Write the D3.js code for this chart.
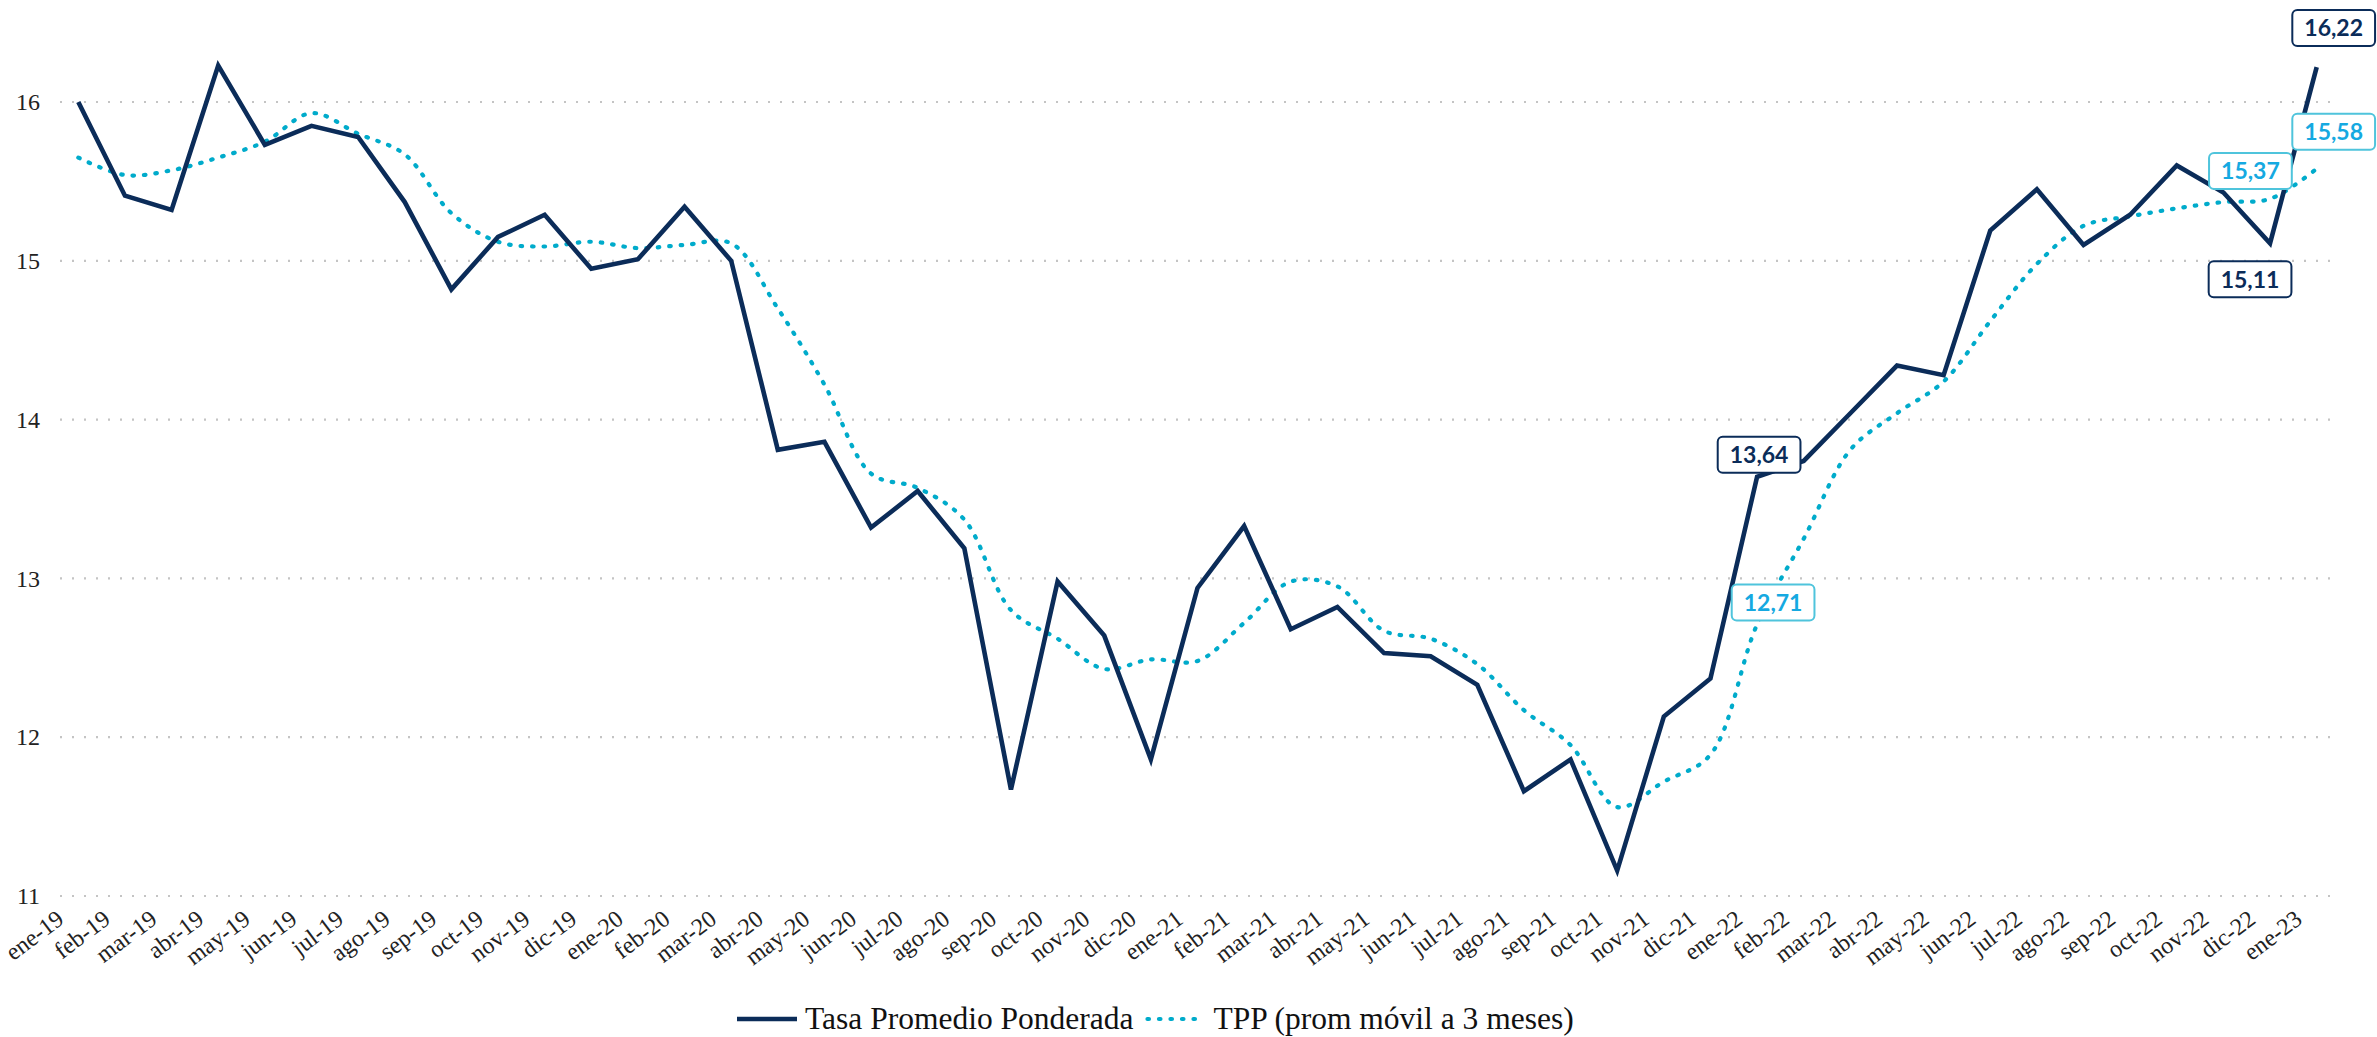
<!DOCTYPE html>
<html>
<head>
<meta charset="utf-8">
<script src="https://cdn.jsdelivr.net/npm/d3@7"></script>
<style>
  html, body { margin: 0; padding: 0; background: #fff; }
  svg { display: block; }
</style>
</head>
<body>
<svg id="chart" width="2377" height="1037"></svg>
<script>
// ---- data ----
const months = [
  'ene-19','feb-19','mar-19','abr-19','may-19','jun-19','jul-19','ago-19','sep-19','oct-19','nov-19','dic-19',
  'ene-20','feb-20','mar-20','abr-20','may-20','jun-20','jul-20','ago-20','sep-20','oct-20','nov-20','dic-20',
  'ene-21','feb-21','mar-21','abr-21','may-21','jun-21','jul-21','ago-21','sep-21','oct-21','nov-21','dic-21',
  'ene-22','feb-22','mar-22','abr-22','may-22','jun-22','jul-22','ago-22','sep-22','oct-22','nov-22','dic-22',
  'ene-23'
];
const tasa = [
  16.00,15.41,15.32,16.23,15.73,15.85,15.78,15.37,14.82,15.15,15.29,14.95,
  15.01,15.34,15.00,13.81,13.86,13.32,13.55,13.19,11.67,12.98,12.64,11.86,
  12.94,13.33,12.68,12.82,12.53,12.51,12.33,11.66,11.86,11.16,12.13,12.37,
  13.64,13.74,14.04,14.34,14.28,15.19,15.45,15.10,15.29,15.60,15.43,15.11,
  16.22
];
const tpp = [
  15.65,15.54,15.57,15.65,15.75,15.93,15.80,15.67,15.30,15.12,15.09,15.12,
  15.08,15.10,15.11,14.70,14.22,13.66,13.57,13.37,12.80,12.62,12.43,12.49,
  12.48,12.72,12.98,12.95,12.67,12.62,12.46,12.17,11.95,11.56,11.72,11.89,
  12.71,13.25,13.81,14.04,14.24,14.62,14.98,15.22,15.28,15.33,15.37,15.39,
  15.58
];
const yTicks = [11, 12, 13, 14, 15, 16];
const seriesNames = ['Tasa Promedio Ponderada', 'TPP (prom móvil a 3 meses)'];
// labelled points: which series and month
const labelSeries = ['tasa', 'tpp', 'tasa', 'tpp', 'tasa', 'tpp'];
const labelMonths = ['ene-22', 'ene-22', 'dic-22', 'nov-22', 'ene-23', 'ene-23'];

// ---- layout / style ----
const layout = {
  xRange: [55, 2340],
  yRange: [896, 102],
  gridX: [60, 2334],
  labelOffsets: [[2, -22], [16, -22], [-20, 36], [27, -31], [17, -39], [17, -37]]
};
const C = { dark: '#0b2c59', teal: '#00abcb', tealText: '#15a9e1', tealBorder: '#4fc4dc', grid: '#c4c4c4', text: '#222' };

const svg = d3.select('#chart');
const x = d3.scalePoint().domain(months).range(layout.xRange).padding(0.5);
const y = d3.scaleLinear().domain([11, 16]).range(layout.yRange);

// grid
svg.append('g').selectAll('line').data(yTicks).join('line')
  .attr('x1', layout.gridX[0]).attr('x2', layout.gridX[1])
  .attr('y1', d => y(d)).attr('y2', d => y(d))
  .attr('stroke', C.grid).attr('stroke-width', 2.2).attr('stroke-dasharray', '2 10');

// y axis
const yAxis = d3.axisLeft(y).tickValues(yTicks).tickSize(0).tickPadding(0).tickFormat(d3.format('d'));
const yg = svg.append('g').attr('transform', 'translate(40,0)').call(yAxis);
yg.select('.domain').remove();
yg.selectAll('text').attr('font-family', 'Liberation Serif').attr('font-size', 24).attr('fill', C.text);

// x axis labels (rotated)
const xAxis = d3.axisBottom(x).tickSize(0).tickPadding(0);
const xg = svg.append('g').call(xAxis);
xg.select('.domain').remove();
xg.selectAll('.tick').attr('transform', d => `translate(${x(d) - 13},922)`);
xg.selectAll('text')
  .attr('font-family', 'Liberation Serif').attr('font-size', 24).attr('fill', C.text)
  .attr('text-anchor', 'end').attr('dy', 0).attr('y', 0)
  .attr('transform', 'rotate(-37)');

// lines
const tasaLine = d3.line().x((d, i) => x(months[i])).y(d => y(d));
const tppLine = d3.line().x((d, i) => x(months[i])).y(d => y(d)).curve(d3.curveCatmullRom.alpha(0.5));

svg.append('path').datum(tpp).attr('d', tppLine)
  .attr('fill', 'none').attr('stroke', C.teal).attr('stroke-width', 4.2)
  .attr('stroke-linecap', 'round').attr('stroke-dasharray', '1.5 10');

svg.append('path').datum(tasa).attr('d', tasaLine)
  .attr('fill', 'none').attr('stroke', C.dark).attr('stroke-width', 4.6)
  .attr('stroke-linejoin', 'miter');

// data labels
const fmt = v => d3.format('.2f')(v).replace('.', ',');
labelSeries.forEach((s, k) => {
  const i = months.indexOf(labelMonths[k]);
  const v = s === 'tasa' ? tasa[i] : tpp[i];
  const [dx, dy] = layout.labelOffsets[k];
  const cx = x(months[i]) + dx, cy = y(v) + dy;
  const g = svg.append('g').attr('transform', `translate(${cx},${cy})`);
  const rect = g.append('rect');
  const t = g.append('text').text(fmt(v))
    .attr('font-family', 'Lato').attr('font-weight', 700).attr('font-size', 23)
    .attr('text-anchor', 'middle').attr('dy', '0.36em')
    .attr('fill', s === 'tasa' ? C.dark : C.tealText);
  const bb = t.node().getBBox();
  const w = bb.width + 24, h = 36;
  rect.attr('x', -w / 2).attr('y', -h / 2).attr('width', w).attr('height', h)
    .attr('rx', 5).attr('fill', '#fff')
    .attr('stroke', s === 'tasa' ? C.dark : C.tealBorder).attr('stroke-width', 2);
});

// legend
const lg = svg.append('g');
const legY = 1019, legBase = 1029;
lg.append('line').attr('x1', 737).attr('x2', 797).attr('y1', legY).attr('y2', legY)
  .attr('stroke', C.dark).attr('stroke-width', 4.6);
const t1 = lg.append('text').attr('x', 805).attr('y', legBase).text(seriesNames[0])
  .attr('font-family', 'Liberation Serif').attr('font-size', 31.5).attr('fill', '#111');
const end1 = 805 + t1.node().getComputedTextLength();
lg.append('line').attr('x1', end1 + 14).attr('x2', end1 + 68).attr('y1', legY).attr('y2', legY)
  .attr('stroke', C.teal).attr('stroke-width', 4.2)
  .attr('stroke-linecap', 'round').attr('stroke-dasharray', '1.5 10');
lg.append('text').attr('x', end1 + 80).attr('y', legBase).text(seriesNames[1])
  .attr('font-family', 'Liberation Serif').attr('font-size', 31.5).attr('fill', '#111');
</script>
</body>
</html>
